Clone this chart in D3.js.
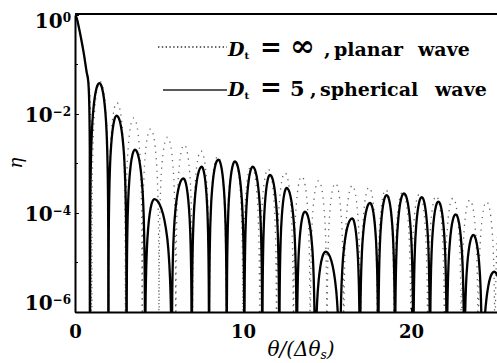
<!DOCTYPE html>
<html>
<head>
<meta charset="utf-8">
<script src="https://cdn.jsdelivr.net/npm/d3@7/dist/d3.min.js"></script>
<style>
  body { margin: 0; background: #fff; }
  svg { display: block; }
  svg text { font-family: "DejaVu Serif", "Liberation Serif", serif; }
  .tick-label { font-weight: bold; }
  .legend { font-weight: bold; }
</style>
</head>
<body>
<svg id="chart" width="497" height="363"></svg>
<script>
// axis ticks
const xTicks = [0, 10, 20];
const yTicks = [1, 1e-2, 1e-4, 1e-6];
const yMinorTicks = [1e-1, 1e-3, 1e-5];
const yTickExp = ['0', '\u22122', '\u22124', '\u22126'];

// D_t = 5, spherical wave: main lobe edge, then sidelobe nulls and peaks
const mainTheta = [0, 0.1, 0.2, 0.36, 0.54, 0.69, 0.79, 0.85, 0.88, 0.89];
const mainEta = [1, 0.88, 0.63, 0.34, 0.155, 0.071, 0.045, 0.015, 2e-3, 1e-10];
const sphNulls = [0.89, 1.99, 3.07, 4.17, 5.76, 6.95, 7.98, 9.03, 10.08, 11.15, 12.16,
  13.2, 14.29, 15.77, 16.96, 18.05, 19.05, 20.14, 21.13, 22.13, 23.17, 24.24, 25.7];
const sphPeakTheta = [1.45, 2.48, 3.57, 4.72, 6.45, 7.54, 8.53, 9.52, 10.58, 11.61, 12.6,
  13.69, 14.92, 16.5, 17.56, 18.55, 19.58, 20.64, 21.63, 22.66, 23.71, 24.95];
const sphPeakEta = [4.2e-2, 9.3e-3, 1.9e-3, 1.9e-4, 5e-4, 8.6e-4, 1.2e-3, 1.1e-3, 8.6e-4,
  5.9e-4, 3.2e-4, 1.07e-4, 1.65e-5, 7.8e-5, 1.6e-4, 2.3e-4, 2.5e-4, 2.1e-4, 1.7e-4,
  9.4e-5, 3.6e-5, 6.5e-6];

// D_t = infinity, planar wave
const planMainTheta = [0, 0.2, 0.36, 0.54, 0.69, 0.8, 0.9, 0.96, 1];
const planMainEta = [1, 0.65, 0.35, 0.16, 0.075, 0.05, 0.02, 3e-3, 1e-10];
const planNulls = [1, 2, 3, 4, 5, 6, 7, 8, 9, 10, 11, 12, 13, 14, 15, 16, 17, 18, 19, 20,
  21, 22, 23, 24, 25, 26];
const planPeakTheta = [1.5, 2.5, 3.5, 4.5, 5.5, 6.5, 7.5, 8.5, 9.5, 10.5, 11.5, 12.5, 13.5,
  14.5, 15.5, 16.5, 17.5, 18.5, 19.5, 20.5, 21.5, 22.5, 23.5, 24.5, 25.5];
const planPeakEta = [4.5e-2, 1.7e-2, 8.3e-3, 5e-3, 3.4e-3, 2.4e-3, 1.8e-3, 1.4e-3, 1.12e-3,
  9.2e-4, 7.7e-4, 6.5e-4, 5.5e-4, 4.5e-4, 4e-4, 3.6e-4, 3.3e-4, 2.95e-4, 2.65e-4, 2.4e-4,
  2.2e-4, 2.0e-4, 1.83e-4, 1.69e-4, 1.56e-4];

// shape of one half lobe: fraction of the way from null to peak, decades below the peak
const lobeProfile = [[0.02, -3], [0.05, -2.2], [0.1, -1.6], [0.2, -1.0], [0.35, -0.56],
  [0.5, -0.3], [0.7, -0.1], [0.85, -0.025], [1, 0]];
const floorEta = 1e-10;

const svg = d3.select('#chart');
const margin = { top: 15, right: 0, bottom: 51, left: 75 };
const width = 497 - margin.left - margin.right;
const height = 363 - margin.top - margin.bottom;

const x = d3.scaleLinear().domain([0, 25.12]).range([margin.left, margin.left + width]);
const y = d3.scaleLog().domain([1e-6, 1]).range([margin.top + height, margin.top]);

svg.append('clipPath').attr('id', 'plot-clip')
  .append('rect')
  .attr('x', margin.left).attr('y', margin.top - 1)
  .attr('width', width).attr('height', height + 1);

function lobePoints(mainT, mainE, nulls, peakT, peakE) {
  const pts = mainT.map((t, i) => [t, mainE[i]]);
  peakT.forEach((p, i) => {
    const a = nulls[i], b = nulls[i + 1], top = Math.log10(peakE[i]);
    lobeProfile.forEach(([f, drop]) => pts.push([a + f * (p - a), Math.pow(10, top + drop)]));
    lobeProfile.slice(0, -1).reverse()
      .forEach(([f, drop]) => pts.push([b - f * (b - p), Math.pow(10, top + drop)]));
    pts.push([b, floorEta]);
  });
  return pts;
}

const line = d3.line()
  .x(d => x(d[0]))
  .y(d => y(d[1]))
  .curve(d3.curveMonotoneX);

const plot = svg.append('g').attr('clip-path', 'url(#plot-clip)');

plot.append('path')
  .datum(lobePoints(planMainTheta, planMainEta, planNulls, planPeakTheta, planPeakEta))
  .attr('fill', 'none')
  .attr('stroke', '#666')
  .attr('stroke-width', 1.3)
  .attr('stroke-dasharray', '1.3,5')
  .attr('d', line);

plot.append('path')
  .datum(lobePoints(mainTheta, mainEta, sphNulls, sphPeakTheta, sphPeakEta))
  .attr('fill', 'none')
  .attr('stroke', '#000')
  .attr('stroke-width', 2.3)
  .attr('stroke-linejoin', 'round')
  .attr('d', line);

// axes
const xAxis = svg.append('g')
  .attr('transform', `translate(0,${margin.top + height})`)
  .call(d3.axisBottom(x).tickValues(xTicks).tickSizeInner(-4).tickSizeOuter(0).tickPadding(13));
xAxis.attr('font-family', null).attr('font-size', null);
xAxis.selectAll('text')
  .attr('class', 'tick-label')
  .style('font-size', '18px')
  .attr('fill', '#000');

const yAxis = svg.append('g')
  .attr('transform', `translate(${margin.left},0)`)
  .call(d3.axisLeft(y).tickValues(yTicks).tickSizeInner(-4).tickSizeOuter(0).tickPadding(4)
    .tickFormat(() => ''));
yAxis.attr('font-family', null).attr('font-size', null);
yAxis.selectAll('.tick text').each(function (d, i) {
  const t = d3.select(this)
    .attr('class', 'tick-label')
    .style('font-size', '20px')
    .attr('fill', '#000')
    .attr('dy', i === 0 ? '0.6em' : i === yTicks.length - 1 ? '-0.15em' : '0.35em');
  t.append('tspan').text('10');
  t.append('tspan').attr('dy', '-0.5em').style('font-size', '12px').text(yTickExp[i]);
});

svg.append('g')
  .attr('transform', `translate(${margin.left},0)`)
  .selectAll('line')
  .data(yMinorTicks)
  .join('line')
  .attr('x1', 0).attr('x2', 3)
  .attr('y1', d => y(d)).attr('y2', d => y(d))
  .attr('stroke', '#000');

[xAxis, yAxis].forEach(g => g.select('.domain').attr('stroke-width', 2));

// top frame line
svg.append('line')
  .attr('x1', margin.left).attr('x2', margin.left + width)
  .attr('y1', margin.top - 1).attr('y2', margin.top - 1)
  .attr('stroke', '#000').attr('stroke-width', 2);

// axis titles
svg.append('text')
  .attr('transform', 'translate(22,163) rotate(-90)')
  .attr('text-anchor', 'middle')
  .style('font-style', 'italic')
  .style('font-size', '18px')
  .text('\u03b7');

const xt = svg.append('text')
  .attr('x', 301).attr('y', 356)
  .attr('text-anchor', 'middle')
  .style('font-style', 'italic')
  .style('font-size', '20px');
xt.append('tspan').text('\u03b8/(\u0394\u03b8');
xt.append('tspan').attr('dy', 3).style('font-size', '12px').text('s');
xt.append('tspan').attr('dy', -3).text(')');

// legend
const legend = svg.append('g');
legend.append('line')
  .attr('x1', 158).attr('x2', 227).attr('y1', 47).attr('y2', 47)
  .attr('stroke', '#333').attr('stroke-width', 1.4).attr('stroke-dasharray', '1.4,2.4');
legend.append('line')
  .attr('x1', 163).attr('x2', 227).attr('y1', 90).attr('y2', 90)
  .attr('stroke', '#222').attr('stroke-width', 1.6);

function legendText(yBase, value, valueSize, words, wordX) {
  const t = legend.append('text').attr('class', 'legend').attr('y', yBase).style('font-size', '19px');
  t.append('tspan').attr('x', 228).style('font-style', 'italic').text('D');
  t.append('tspan').attr('dy', 3).style('font-size', '10px').text('t');
  t.append('tspan').attr('dy', -3).attr('x', 260).style('font-size', '26px').text('=');
  t.append('tspan').attr('x', 290).style('font-size', valueSize).text(value);
  t.append('tspan').attr('x', wordX[0]).text(',');
  words.forEach((w, i) => t.append('tspan').attr('x', wordX[i + 1]).text(w));
}
legendText(56, '\u221e', '30px', ['planar', 'wave'], [324, 334, 418]);
legendText(96, '5', '21px', ['spherical', 'wave'], [310, 320, 435]);
</script>
</body>
</html>
